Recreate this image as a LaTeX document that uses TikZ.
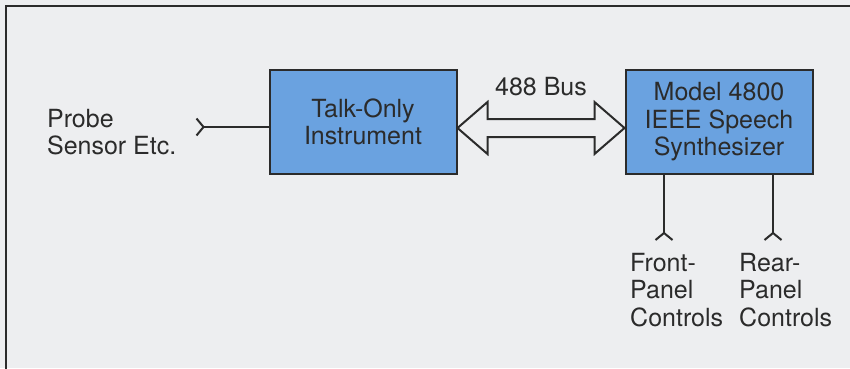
\documentclass[tikz,border=0pt]{standalone}
\usepackage{fontspec}
\setmainfont{TeX Gyre Heros}
\usepackage{xcolor}
\usetikzlibrary{arrows.meta, positioning, calc}

\definecolor{paper}{HTML}{EDEEF0}
\definecolor{ink}{HTML}{2B2B2B}
\definecolor{boxblue}{HTML}{6AA2E0}

\tikzset{
    unit/.style={draw=ink, line width=2pt, fill=boxblue, minimum width=187pt, minimum height=104pt, align=center, inner sep=0pt},
    plain/.style={align=left, inner sep=0pt},
    fork/.style={draw=ink, line width=2pt, -{Straight Barb[reversed, length=7pt, width=17pt, line width=2pt]}},
    bus/.style={draw=ink, line width=2pt, fill=paper, line join=miter}
}

\begin{document}
\begin{tikzpicture}[x=1pt, y=1pt, font=\fontsize{25}{27.5}\selectfont, text=ink]
        \fill[paper] (0,0) rectangle (850,368);
        \useasboundingbox (0,0) rectangle (850,368);
        \draw[ink, line width=1.6pt] (6,-10) |- (860,362);

        \node[unit] (instr) at (363,246) {Talk-Only\\Instrument};
        \node[unit] (synth) [right=167pt of instr] {Model 4800\\IEEE Speech\\Synthesizer};

        \coordinate (busL) at ([yshift=-6pt]instr.east);
        \coordinate (busR) at ([yshift=-6pt]synth.west);
        \draw[bus] (busL) -- ++(30,26) -- ++(0,-17) -- ($(busR)+(-30,9)$) -- ++(0,17) -- (busR)
            -- ++(-30,-26) -- ++(0,17) -- ($(busL)+(30,-9)$) -- ++(0,-17) -- cycle;
        \node (buslabel) at ($(busL)!0.5!(busR)+(0,41)$) {488 Bus};

        \coordinate (probein) at ([xshift=-73pt, yshift=-5pt]instr.west);
        \node[plain, anchor=east] (probe) at ([xshift=-19pt, yshift=-5pt]probein) {Probe\\Sensor Etc.};

        \coordinate (frontin) at ([xshift=-55pt, yshift=-66pt]synth.south);
        \coordinate (rearin) at ([xshift=54pt, yshift=-66pt]synth.south);
        \node[plain, anchor=north west] (front) at ([xshift=-34pt, yshift=-12pt]frontin) {Front-\\Panel\\Controls};
        \node[plain, anchor=north west] (rear) at ([xshift=-34pt, yshift=-12pt]rearin) {Rear-\\Panel\\Controls};

        \path
        ([yshift=-5pt]instr.west) edge[fork] (probein)
        (synth.south -| frontin) edge[fork] (frontin)
        (synth.south -| rearin) edge[fork] (rearin);
    \end{tikzpicture}
\end{document}
